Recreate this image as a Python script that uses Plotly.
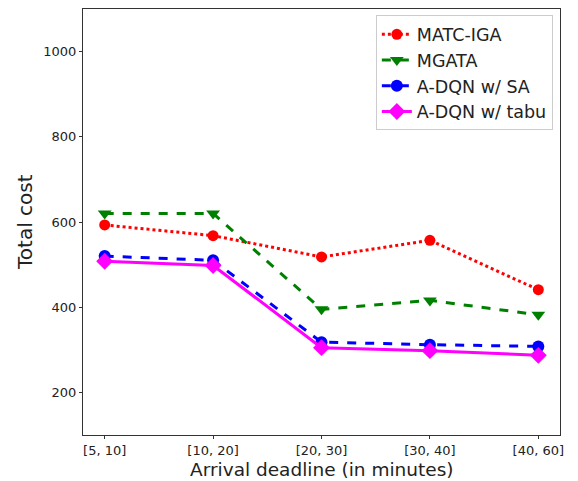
import plotly.graph_objects as go

categories = ["[5, 10]", "[10, 20]", "[20, 30]", "[30, 40]", "[40, 60]"]
matc_iga = [593, 568, 518, 557, 441]
mgata = [620, 620, 395, 416, 382]
adqn_sa = [520, 510, 318, 312, 308]
adqn_tabu = [508, 498, 305, 298, 287]

xs = list(range(len(categories)))

series = [
    ("MATC-IGA", matc_iga, "red", "dot", "circle", 11),
    ("MGATA", mgata, "green", "dash", "triangle-down", 12),
    ("A-DQN w/ SA", adqn_sa, "blue", "dash", "circle", 12),
    ("A-DQN w/ tabu", adqn_tabu, "magenta", "solid", "diamond", 13),
]

fig = go.Figure()
for name, vals, color, dash, sym, ms in series:
    fig.add_trace(go.Scatter(
        x=xs, y=vals, name=name, mode="lines+markers",
        line=dict(color=color, dash=dash, width=3),
        marker=dict(symbol=sym, size=ms, color=color),
    ))

axis_common = dict(showline=True, linecolor="#333", linewidth=1, mirror=True,
                   ticks="outside", ticklen=3, tickcolor="#333", showgrid=False,
                   zeroline=False, automargin=False,
                   tickfont=dict(family="DejaVu Sans", size=13, color="#222"))

fig.update_layout(
    width=578, height=481,
    margin=dict(l=83, r=18, t=9, b=46),
    plot_bgcolor="white", paper_bgcolor="white",
    font=dict(family="DejaVu Sans", color="#222"),
    xaxis=dict(range=[-0.2, 4.2], tickmode="array", tickvals=xs, ticktext=categories,
               ticklabelstandoff=0, **axis_common),
    yaxis=dict(range=[100, 1100], tickvals=[200, 400, 600, 800, 1000],
               **axis_common),
    legend=dict(x=0.985, y=0.985, xanchor="right", yanchor="top",
                bgcolor="rgba(255,255,255,0.8)", bordercolor="#ccc", borderwidth=1,
                font=dict(size=17.5, family="DejaVu Sans"), tracegroupgap=0),
    annotations=[
        dict(text="Arrival deadline (in minutes)", xref="paper", yref="paper",
             x=0.5, y=0, xanchor="center", yanchor="bottom", yshift=-46,
             borderpad=0, showarrow=False, font=dict(size=18.5, color="#222")),
        dict(text="Total cost", xref="paper", yref="paper", textangle=-90,
             x=0, y=0.5, xanchor="center", yanchor="middle", xshift=-58,
             showarrow=False, font=dict(size=20, color="#222")),
    ],
)

fig.write_html("out.html")
